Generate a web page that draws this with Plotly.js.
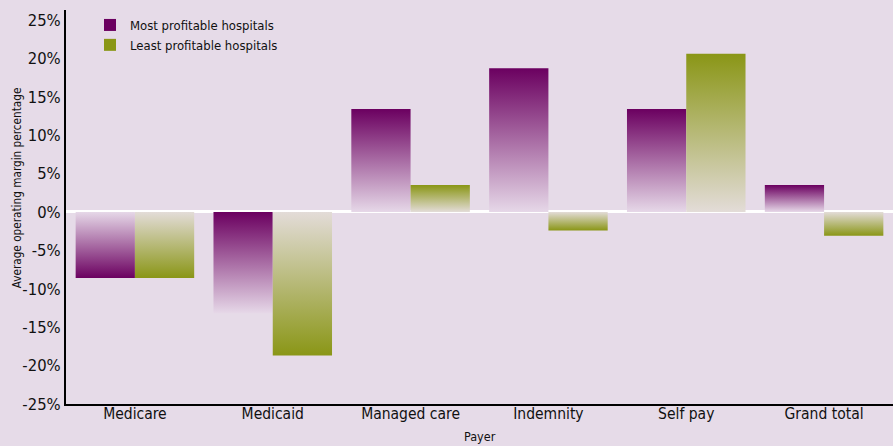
<!DOCTYPE html>
<html>
<head>
<meta charset="utf-8">
<script src="https://cdn.plot.ly/plotly-3.0.1.min.js"></script>
<style>
  html, body { margin: 0; padding: 0; background: #e6dbe8; }
  #chart { width: 893px; height: 446px; }
</style>
</head>
<body>
<div id="chart"></div>
<script>
// ---- data ----
const categories = ["Medicare", "Medicaid", "Managed care", "Indemnity", "Self pay", "Grand total"];
const mostProfitable = [-0.086, -0.132, 0.134, 0.187, 0.134, 0.035];
const leastProfitable = [-0.086, -0.187, 0.035, -0.024, 0.206, -0.031];
const seriesNames = ["Most profitable hospitals", "Least profitable hospitals"];
const yTickValues = [-0.25, -0.2, -0.15, -0.1, -0.05, 0, 0.05, 0.1, 0.15, 0.2, 0.25];
const yTickLabels = ["-25%", "-20%", "-15%", "-10%", "-5%", "0%", "5%", "10%", "15%", "20%", "25%"];
const xTitle = "Payer";
const yTitle = "Average operating margin percentage";

// ---- style ----
const darkColors = ["rgb(107,0,96)", "rgb(138,150,22)"];
const lightColors = ["rgb(230,216,232)", "rgb(227,220,216)"];
// whether the dark end of each bar's gradient sits at the bar's value end (true) or at zero (false)
const darkAtValueEnd = [
  [true, false, true, true, true, true],
  [true, true, true, true, true, true]
];
const FONT = '"Liberation Sans Narrow", "DejaVu Sans Condensed", "Arial Narrow", sans-serif';
const BG = "#e6dbe8";

const traces = [mostProfitable, leastProfitable].map((vals, k) => ({
  type: "bar",
  x: categories,
  y: vals,
  name: seriesNames[k],
  marker: { color: darkColors[k], line: { width: 0 } },
  hoverinfo: "x+y+name"
}));

const layout = {
  width: 893,
  height: 446,
  paper_bgcolor: BG,
  plot_bgcolor: BG,
  margin: { l: 66, r: 0, t: 10, b: 42 },
  barmode: "group",
  bargap: 0.14,
  bargroupgap: 0,
  font: { family: FONT, color: "#111", size: 16 },
  showlegend: true,
  legend: {
    x: 0.029, y: 1.0, xanchor: "left", yanchor: "top",
    bgcolor: "rgba(0,0,0,0)",
    font: { family: FONT, size: 13, color: "#111" },
    itemwidth: 30, tracegroupgap: 0
  },
  xaxis: {
    type: "category",
    range: [-0.5, 5.5],
    showline: true, linecolor: "#000", linewidth: 1.5,
    showgrid: false, zeroline: false, ticks: "", ticklen: 0,
    ticklabelstandoff: -5,
    tickfont: { family: FONT, size: 15.5, color: "#111" }
  },
  yaxis: {
    range: [-0.25, 0.263],
    tickvals: yTickValues,
    ticktext: yTickLabels,
    showline: true, linecolor: "#000", linewidth: 2,
    showgrid: false,
    zeroline: true, zerolinecolor: "#ffffff", zerolinewidth: 3,
    ticks: "", ticklen: 0, ticklabelstandoff: 0,
    tickfont: { family: FONT, size: 16.5, color: "#111" }
  },
  annotations: [
    {
      text: yTitle, textangle: -90, showarrow: false,
      xref: "paper", yref: "paper", x: -0.059, y: 0.548,
      xanchor: "center", yanchor: "middle",
      font: { family: FONT, size: 11.7, color: "#111" }
    },
    {
      text: xTitle, showarrow: false,
      xref: "paper", yref: "paper", x: 0.5, y: -0.083,
      xanchor: "center", yanchor: "middle",
      font: { family: FONT, size: 12.5, color: "#111" }
    }
  ]
};

Plotly.newPlot("chart", traces, layout, { displayModeBar: false, staticPlot: true }).then(gd => {
  const svg = gd.querySelector("svg.main-svg");
  const ns = "http://www.w3.org/2000/svg";
  const defs = document.createElementNS(ns, "defs");
  svg.insertBefore(defs, svg.firstChild);
  const traceGroups = gd.querySelectorAll(".barlayer .trace");
  traceGroups.forEach((tg, k) => {
    const vals = k === 0 ? mostProfitable : leastProfitable;
    const paths = tg.querySelectorAll(".point path");
    paths.forEach((p, i) => {
      const id = "grad_" + k + "_" + i;
      const g = document.createElementNS(ns, "linearGradient");
      g.setAttribute("id", id);
      g.setAttribute("x1", "0"); g.setAttribute("x2", "0");
      const positive = vals[i] >= 0;
      const darkTop = positive === darkAtValueEnd[k][i];
      g.setAttribute("y1", darkTop ? "0" : "1");
      g.setAttribute("y2", darkTop ? "1" : "0");
      const s1 = document.createElementNS(ns, "stop");
      s1.setAttribute("offset", "0");
      s1.setAttribute("stop-color", darkColors[k]);
      const s2 = document.createElementNS(ns, "stop");
      s2.setAttribute("offset", "1");
      s2.setAttribute("stop-color", lightColors[k]);
      g.appendChild(s1); g.appendChild(s2);
      defs.appendChild(g);
      p.style.fill = "url(#" + id + ")";
    });
  });
});
</script>
</body>
</html>
